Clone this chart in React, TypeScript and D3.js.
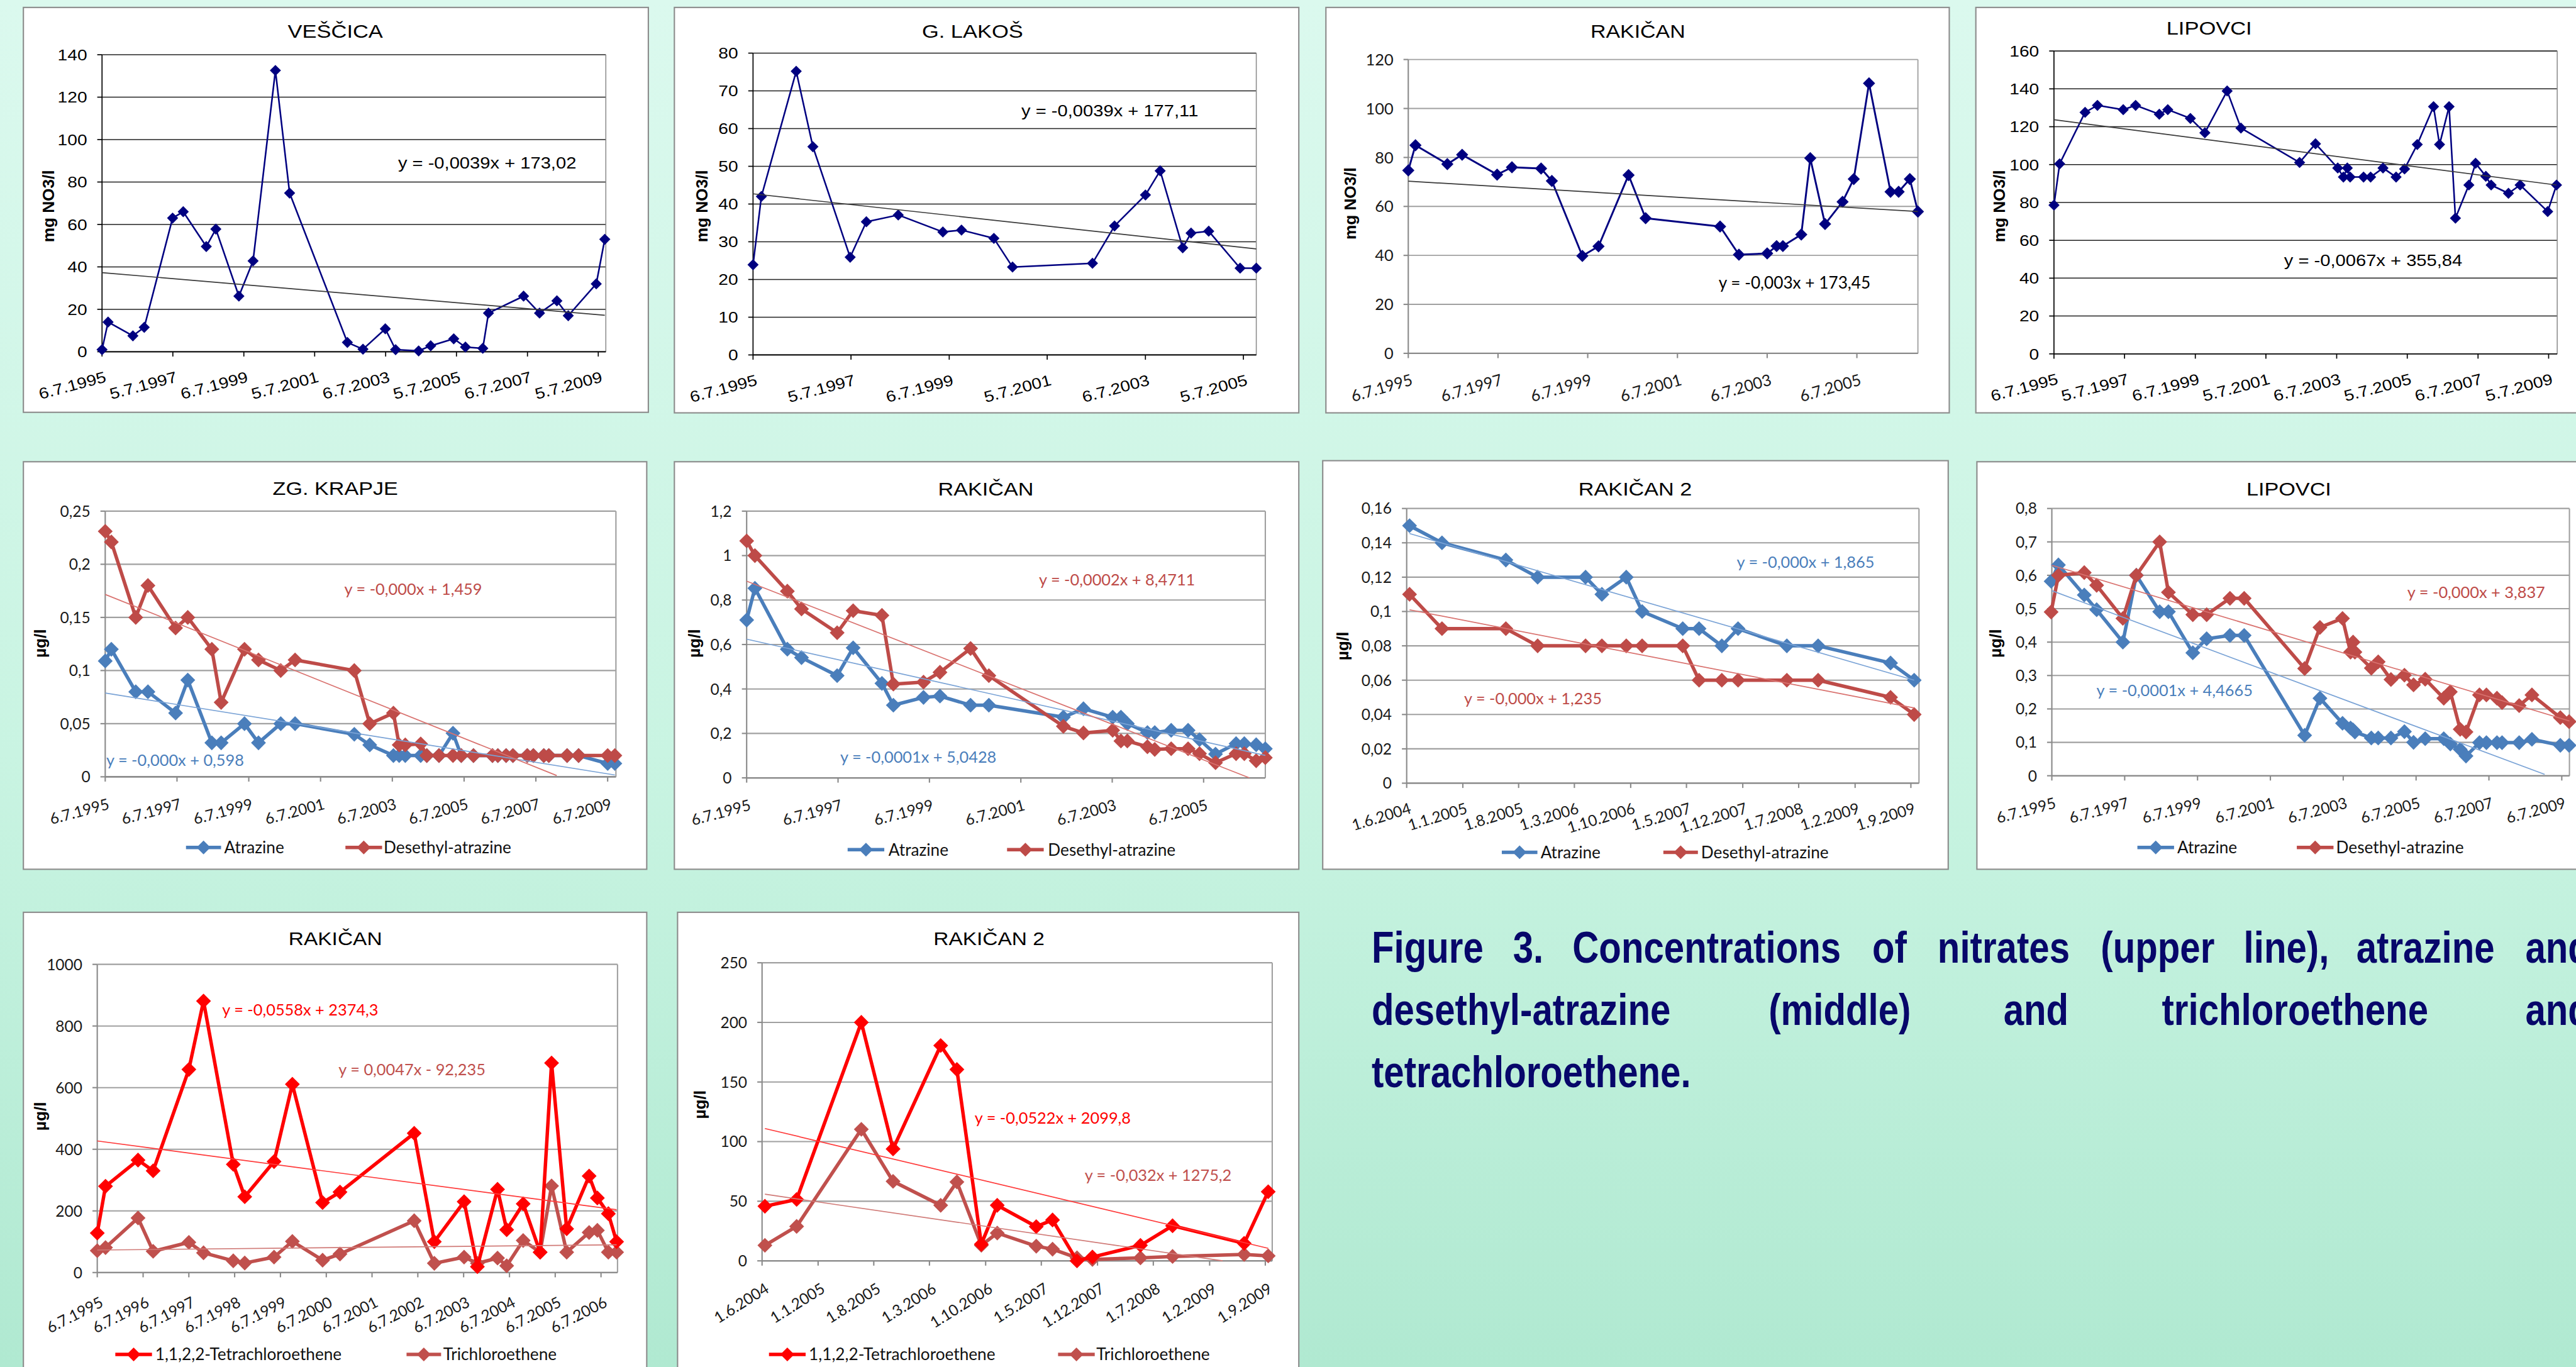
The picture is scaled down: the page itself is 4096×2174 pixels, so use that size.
import React from 'react';
import * as d3 from 'd3';

// ---------- data (x = decimal year of the sample date) ----------
const vescicaYears = [1995.51, 1995.68, 1996.38, 1996.7, 1997.5, 1997.8, 1998.45, 1998.72, 1999.37, 1999.77, 2000.4, 2000.8, 2002.43, 2002.87, 2003.5, 2003.79, 2004.44, 2004.78, 2005.43, 2005.76, 2006.25, 2006.41, 2007.4, 2007.85, 2008.34, 2008.66, 2009.45, 2009.69];
const vescicaNO3 = [1, 14, 7.5, 11.5, 63, 66, 49.6, 57.8, 26.2, 42.8, 132.6, 74.8, 4.4, 1.2, 10.8, 1, 0.4, 2.8, 6.1, 2.2, 1.6, 18.2, 26.2, 18.2, 24, 17, 32, 53];
const vescicaTrend = [37.3, 17.2];

const lakosYears = [1995.51, 1995.68, 1996.39, 1996.73, 1997.49, 1997.82, 1998.47, 1999.38, 1999.76, 2000.42, 2000.8, 2002.43, 2002.88, 2003.51, 2003.81, 2004.27, 2004.44, 2004.8, 2005.44, 2005.77];
const lakosNO3 = [23.9, 42, 75.2, 55.2, 25.9, 35.3, 37.1, 32.6, 33.1, 30.9, 23.3, 24.3, 34.2, 42.4, 48.8, 28.4, 32.3, 32.8, 23, 23];
const lakosTrend = [42.7, 28.1];

const rakicanYears = [1995.51, 1995.67, 1996.38, 1996.71, 1997.49, 1997.82, 1998.47, 1998.71, 1999.39, 1999.75, 2000.42, 2000.8, 2002.46, 2002.88, 2003.51, 2003.72, 2003.86, 2004.27, 2004.47, 2004.8, 2005.19, 2005.44, 2005.78, 2006.26, 2006.44, 2006.69, 2006.87];
const rakicanNO3 = [74.7, 85, 77.3, 81.1, 73, 76, 75.5, 70.4, 39.8, 43.7, 72.8, 55.2, 51.8, 40.3, 40.8, 43.8, 43.8, 48.5, 79.7, 52.8, 61.9, 71.2, 110.3, 66, 66, 71.2, 57.9];
const rakicanTrend = [70.3, 57.9];

const lipovciYears = [1995.51, 1995.67, 1996.39, 1996.74, 1997.47, 1997.82, 1998.49, 1998.73, 1999.37, 1999.78, 2000.41, 2000.8, 2002.46, 2002.91, 2003.54, 2003.7, 2003.81, 2003.89, 2004.27, 2004.47, 2004.82, 2005.19, 2005.43, 2005.79, 2006.25, 2006.42, 2006.69, 2006.87, 2007.25, 2007.44, 2007.73, 2007.88, 2008.37, 2008.7, 2009.48, 2009.73];
const lipovciNO3 = [78.6, 100.4, 127.6, 131.3, 129, 131.3, 126.6, 129, 124.4, 116.8, 138.9, 119.3, 101.1, 111, 98.2, 93.4, 98.2, 93.4, 93.4, 93.4, 98.2, 93.4, 97.7, 110.6, 130.6, 110.6, 130.6, 71.7, 89.2, 100.7, 93.8, 89.2, 84.8, 89.2, 75.2, 89.2];
const lipovciTrend = [123.7, 89.2];

const krapjeYears = [1995.51, 1995.68, 1996.36, 1996.7, 1997.47, 1997.81, 1998.48, 1998.74, 1999.39, 1999.78, 2000.4, 2000.8, 2002.45, 2002.88, 2003.54, 2003.7, 2003.87, 2004.3, 2004.47, 2004.81, 2005.2, 2005.43, 2005.77, 2006.3, 2006.45, 2006.68, 2006.87, 2007.27, 2007.44, 2007.73, 2007.87, 2008.38, 2008.7, 2009.51, 2009.71];
const krapjeAtrazine = [0.109, 0.12, 0.08, 0.08, 0.06, 0.091, 0.032, 0.032, 0.05, 0.032, 0.05, 0.05, 0.04, 0.03, 0.02, 0.02, 0.02, 0.02, 0.02, 0.02, 0.041, 0.02, 0.02, 0.02, 0.02, 0.02, 0.02, 0.02, 0.02, 0.02, 0.02, 0.02, 0.02, 0.0125, 0.0125];
const krapjeDesethyl = [0.231, 0.221, 0.15, 0.18, 0.14, 0.15, 0.12, 0.07, 0.12, 0.11, 0.1, 0.11, 0.1, 0.05, 0.06, 0.03, 0.03, 0.031, 0.02, 0.02, 0.02, 0.02, 0.02, 0.02, 0.02, 0.02, 0.02, 0.02, 0.02, 0.02, 0.02, 0.02, 0.02, 0.02, 0.02];
const krapjeAtrazineTrend = [0.0789, 0.0017];
const krapjeDesethylTrend = [0.1716, 0.0012];

const rakAtrYears = [1995.51, 1995.69, 1996.4, 1996.71, 1997.49, 1997.84, 1998.47, 1998.72, 1999.38, 1999.74, 2000.41, 2000.81, 2002.44, 2002.88, 2003.52, 2003.7, 2003.84, 2004.28, 2004.44, 2004.8, 2005.17, 2005.42, 2005.77, 2006.22, 2006.4, 2006.66, 2006.86];
const rakAtrazine = [0.71, 0.853, 0.579, 0.541, 0.46, 0.585, 0.425, 0.327, 0.362, 0.368, 0.327, 0.327, 0.273, 0.311, 0.273, 0.273, 0.244, 0.204, 0.204, 0.214, 0.214, 0.172, 0.107, 0.154, 0.154, 0.149, 0.131];
const rakDesethyl = [1.066, 1.0, 0.84, 0.76, 0.653, 0.752, 0.731, 0.422, 0.431, 0.475, 0.582, 0.46, 0.232, 0.202, 0.214, 0.166, 0.166, 0.14, 0.128, 0.131, 0.131, 0.109, 0.068, 0.109, 0.109, 0.077, 0.091];
const rakAtrazineTrend = [0.624, 0.101];
const rakDesethylTrend = [0.885, 0];

const rak2AtrYears = [2004.445, 2004.783, 2005.448, 2005.779, 2006.278, 2006.448, 2006.702, 2006.867, 2007.29, 2007.46, 2007.697, 2007.866, 2008.374, 2008.7, 2009.454, 2009.7];
const rak2Atrazine = [0.15, 0.14, 0.13, 0.12, 0.12, 0.11, 0.12, 0.1, 0.09, 0.09, 0.08, 0.09, 0.08, 0.08, 0.07, 0.06];
const rak2Desethyl = [0.11, 0.09, 0.09, 0.08, 0.08, 0.08, 0.08, 0.08, 0.08, 0.06, 0.06, 0.06, 0.06, 0.06, 0.05, 0.04];
const rak2AtrazineTrend = [0.1454, 0.06];
const rak2DesethylTrend = [0.101, 0.0438];

const lipAtrYears = [1995.49, 1995.69, 1996.4, 1996.74, 1997.46, 1997.83, 1998.47, 1998.71, 1999.38, 1999.76, 2000.4, 2000.79, 2002.45, 2002.87, 2003.49, 2003.71, 2003.78, 2003.83, 2004.28, 2004.47, 2004.82, 2005.19, 2005.44, 2005.76, 2006.27, 2006.45, 2006.72, 2006.88, 2007.25, 2007.44, 2007.73, 2007.87, 2008.34, 2008.69, 2009.47, 2009.71];
const lipAtrazine = [0.582, 0.631, 0.541, 0.497, 0.4, 0.6, 0.491, 0.491, 0.368, 0.41, 0.42, 0.42, 0.121, 0.232, 0.157, 0.143, 0.137, 0.131, 0.113, 0.113, 0.113, 0.132, 0.1, 0.111, 0.111, 0.095, 0.079, 0.059, 0.099, 0.099, 0.099, 0.099, 0.099, 0.109, 0.091, 0.091];
const lipDesethyl = [0.49, 0.6, 0.608, 0.57, 0.471, 0.6, 0.7, 0.549, 0.482, 0.482, 0.531, 0.531, 0.321, 0.444, 0.471, 0.37, 0.4, 0.37, 0.322, 0.341, 0.288, 0.301, 0.272, 0.289, 0.232, 0.251, 0.139, 0.131, 0.242, 0.242, 0.232, 0.219, 0.21, 0.242, 0.174, 0.162];
const lipAtrazineTrend = [0.554, 0.004];
const lipDesethylTrend = [0.63, 0.164];

const rakTceYears = [1995.51, 1995.69, 1996.4, 1996.73, 1997.51, 1997.83, 1998.48, 1998.73, 1999.37, 1999.77, 2000.43, 2000.81, 2002.43, 2002.87, 2003.52, 2003.81, 2004.25, 2004.45, 2004.81, 2005.18, 2005.43, 2005.76, 2006.25, 2006.43, 2006.67, 2006.85];
const rakTetra = [128, 280, 365, 330, 659, 881, 351, 246, 360, 611, 227, 261, 452, 100, 230, 19, 270, 139, 223, 66, 680, 142, 313, 242, 191, 100];
const rakTri = [71, 81, 177, 69, 98, 64, 38, 31, 50, 101, 40, 60, 168, 30, 50, 30, 47, 22, 104, 66, 281, 66, 130, 137, 66, 66];
const rakTetraTrend = [427, 204];
const rakTriTrend = [73, 90];

const rak2TceYears = [2004.445, 2004.776, 2005.451, 2005.782, 2006.279, 2006.448, 2006.703, 2006.869, 2007.276, 2007.446, 2007.701, 2007.862, 2008.363, 2008.698, 2009.445, 2009.696];
const rak2Tetra = [45.8, 51.5, 200, 93.9, 180.6, 160.5, 14, 46.6, 28.7, 34.3, 0, 3.2, 13, 29.4, 14.7, 58];
const rak2Tri = [13, 28.9, 110.3, 66.7, 46.6, 66.2, 13, 23.3, 12.3, 9.8, 2.5, 1.2, 2.5, 3.7, 5.4, 4.2];
const rak2TetraTrend = [111, 10.5];
const rak2TriTrend = [55.9, 0];

// tick labels
const ticksAlt2009 = ['6.7.1995', '5.7.1997', '6.7.1999', '5.7.2001', '6.7.2003', '5.7.2005', '6.7.2007', '5.7.2009'];
const ticksAlt2005 = ['6.7.1995', '5.7.1997', '6.7.1999', '5.7.2001', '6.7.2003', '5.7.2005'];
const ticks2005 = ['6.7.1995', '6.7.1997', '6.7.1999', '6.7.2001', '6.7.2003', '6.7.2005'];
const ticks2009 = ['6.7.1995', '6.7.1997', '6.7.1999', '6.7.2001', '6.7.2003', '6.7.2005', '6.7.2007', '6.7.2009'];
const ticksYearly = ['6.7.1995', '6.7.1996', '6.7.1997', '6.7.1998', '6.7.1999', '6.7.2000', '6.7.2001', '6.7.2002', '6.7.2003', '6.7.2004', '6.7.2005', '6.7.2006'];
const ticksMonthly = ['1.6.2004', '1.1.2005', '1.8.2005', '1.3.2006', '1.10.2006', '1.5.2007', '1.12.2007', '1.7.2008', '1.2.2009', '1.9.2009'];

const captionLines = [
  ['Figure', '3.', 'Concentrations', 'of', 'nitrates', '(upper', 'line),', 'atrazine', 'and'],
  ['desethyl-atrazine', '(middle)', 'and', 'trichloroethene', 'and'],
  ['tetrachloroethene.'],
];

// ---------- helpers ----------
const ARIAL = "'Liberation Sans', Arial, sans-serif";
const CALIBRI = "Lato, 'Liberation Sans', sans-serif";

const toYear = (s: string) => {
  const [d, m, y] = s.split('.').map(Number);
  const start = Date.UTC(y, 0, 1);
  return y + (Date.UTC(y, m - 1, d) - start) / (Date.UTC(y + 1, 0, 1) - start);
};

const fmt = d3.formatLocale({ decimal: ',', thousands: '.', grouping: [3], currency: ['', ''] }).format('~g');

const NAVY = '#000080';
const BLUE = '#4a7ebb';
const RED = '#be4b48';
const BRIGHT = '#ff0000';
const ROSE = '#c0504d';

type Series = { xs: number[]; ys: number[]; color: string; width: number; r: number };
type Trend = { xs: number[]; ys: number[]; color: string; width: number };
type Eq = { text: string; x: number; y: number; color: string };
type Style = {
  tickFont: string; tickSize: number; tickColor: string; sx: number;
  titleSize: number; titleSx: number;
  eqFont: string; eqSize: number;
  grid: string; gridW: number; axis: string; axisW: number; frame: string;
};
type PanelCfg = {
  box: number[]; plot: number[];
  title: string; titleX: number; titleY: number;
  yLabel: string; yLabelX: number; yLabelY: number;
  xTicks: string[]; xMax: number; xAngle: number; xOff: number;
  yTicks: number[];
  series: Series[]; trends: Trend[]; eqs: Eq[];
  legend?: { y: number; items: { label: string; color: string; x0: number; x1: number; tx: number }[] };
  style: Style;
};

// the older Excel charts are stretched sideways, hence the sx factors
const oldStyle: Style = {
  tickFont: ARIAL, tickSize: 29, tickColor: '#000', sx: 1.15,
  titleSize: 34, titleSx: 1.2,
  eqFont: ARIAL, eqSize: 30,
  grid: '#222', gridW: 1.8, axis: '#000', axisW: 2, frame: '#8a8a8a',
};
const newStyle: Style = {
  tickFont: CALIBRI, tickSize: 29, tickColor: '#1a1a1a', sx: 1,
  titleSize: 34, titleSx: 1.19,
  eqFont: CALIBRI, eqSize: 30,
  grid: '#a0a0a0', gridW: 2.5, axis: '#8a8a8a', axisW: 2.5, frame: '#a0a0a0',
};
const rakNO3Style: Style = { ...newStyle, tickSize: 30, eqSize: 31, gridW: 2.2, titleSx: 1.18 };
const row3Style: Style = { ...newStyle, titleSize: 36, titleSx: 1.1 };

const navy = (xs: number[], ys: number[]): Series => ({ xs, ys, color: NAVY, width: 3, r: 10.5 });
const thick = (xs: number[], ys: number[], color: string): Series => ({ xs, ys, color, width: 6.5, r: 14 });
const trend = (xs: number[], ys: number[], color: string, width = 2): Trend => ({ xs, ys, color, width });

const nitrateLabel = 'mg NO3/l';
const microLabel = 'µg/l';

const panels: PanelCfg[] = [
  {
    box: [44, 14, 1176, 762], plot: [192, 103, 1140, 662],
    title: 'VEŠČICA', titleX: 631, titleY: 71,
    yLabel: nitrateLabel, yLabelX: 91, yLabelY: 388,
    xTicks: ticksAlt2009, xMax: 2009.72, xAngle: -15, xOff: 36,
    yTicks: [0, 20, 40, 60, 80, 100, 120, 140],
    series: [navy(vescicaYears, vescicaNO3)],
    trends: [trend([vescicaYears[0], vescicaYears[vescicaYears.length - 1]], vescicaTrend, '#3a3a3a')],
    eqs: [{ text: 'y = -0,0039x + 173,02', x: 749, y: 317, color: '#000' }],
    style: oldStyle,
  },
  {
    box: [1269, 14, 1175, 763], plot: [1417, 100, 2364, 668],
    title: 'G. LAKOŠ', titleX: 1830, titleY: 71,
    yLabel: nitrateLabel, yLabelX: 1321, yLabelY: 388,
    xTicks: ticksAlt2005, xMax: 2005.77, xAngle: -15, xOff: 36,
    yTicks: [0, 10, 20, 30, 40, 50, 60, 70, 80],
    series: [navy(lakosYears, lakosNO3)],
    trends: [trend([lakosYears[0], lakosYears[lakosYears.length - 1]], lakosTrend, '#3a3a3a')],
    eqs: [{ text: 'y = -0,0039x + 177,11', x: 1922, y: 219, color: '#000' }],
    style: oldStyle,
  },
  {
    box: [2495, 14, 1173, 763], plot: [2650, 112, 3609, 665],
    title: 'RAKIČAN', titleX: 3082, titleY: 71,
    yLabel: nitrateLabel, yLabelX: 2541, yLabelY: 383,
    xTicks: ticks2005, xMax: 2006.87, xAngle: -16, xOff: 38,
    yTicks: [0, 20, 40, 60, 80, 100, 120],
    series: [{ ...navy(rakicanYears, rakicanNO3), width: 3.5, r: 11.5 }],
    trends: [trend([rakicanYears[0], rakicanYears[rakicanYears.length - 1]], rakicanTrend, '#3a3a3a')],
    eqs: [{ text: 'y = -0,003x + 173,45', x: 3234, y: 543, color: '#000' }],
    style: rakNO3Style,
  },
  {
    box: [3718, 14, 1300, 763], plot: [3865, 96, 4812, 666],
    title: 'LIPOVCI', titleX: 4157, titleY: 65,
    yLabel: nitrateLabel, yLabelX: 3762, yLabelY: 388,
    xTicks: ticksAlt2009, xMax: 2009.75, xAngle: -15, xOff: 36,
    yTicks: [0, 20, 40, 60, 80, 100, 120, 140, 160],
    series: [navy(lipovciYears, lipovciNO3)],
    trends: [trend([lipovciYears[0], lipovciYears[lipovciYears.length - 1]], lipovciTrend, '#3a3a3a')],
    eqs: [{ text: 'y = -0,0067x + 355,84', x: 4298, y: 501, color: '#000' }],
    style: oldStyle,
  },
  {
    box: [44, 869, 1173, 767], plot: [198, 962, 1159, 1462],
    title: 'ZG. KRAPJE', titleX: 631, titleY: 931,
    yLabel: microLabel, yLabelX: 76, yLabelY: 1211,
    xTicks: ticks2009, xMax: 2009.74, xAngle: -15, xOff: 40,
    yTicks: [0, 0.05, 0.1, 0.15, 0.2, 0.25],
    series: [thick(krapjeYears, krapjeAtrazine, BLUE), thick(krapjeYears, krapjeDesethyl, RED)],
    trends: [
      trend([1995.51, 2009.71], krapjeAtrazineTrend, '#7aa3d6'),
      trend([1995.51, 2008.09], krapjeDesethylTrend, '#d9726f'),
    ],
    eqs: [
      { text: 'y = -0,000x + 1,459', x: 648, y: 1119, color: RED },
      { text: 'y = -0,000x + 0,598', x: 200, y: 1442, color: BLUE },
    ],
    legend: { y: 1595, items: [
      { label: 'Atrazine', color: BLUE, x0: 350, x1: 416, tx: 422 },
      { label: 'Desethyl-atrazine', color: RED, x0: 650, x1: 719, tx: 722 },
    ] },
    style: newStyle,
  },
  {
    box: [1269, 869, 1175, 767], plot: [1405, 962, 2381, 1464],
    title: 'RAKIČAN', titleX: 1855, titleY: 932,
    yLabel: microLabel, yLabelX: 1306, yLabelY: 1211,
    xTicks: ticks2005, xMax: 2006.86, xAngle: -15, xOff: 40,
    yTicks: [0, 0.2, 0.4, 0.6, 0.8, 1, 1.2],
    series: [thick(rakAtrYears, rakAtrazine, BLUE), thick(rakAtrYears, rakDesethyl, RED)],
    trends: [
      trend([1995.51, 2006.86], rakAtrazineTrend, '#7aa3d6'),
      trend([1995.51, 2006.51], rakDesethylTrend, '#d9726f'),
    ],
    eqs: [
      { text: 'y = -0,0002x + 8,4711', x: 1955, y: 1102, color: RED },
      { text: 'y = -0,0001x + 5,0428', x: 1581, y: 1435, color: BLUE },
    ],
    legend: { y: 1599, items: [
      { label: 'Atrazine', color: BLUE, x0: 1595, x1: 1664, tx: 1672 },
      { label: 'Desethyl-atrazine', color: RED, x0: 1895, x1: 1964, tx: 1972 },
    ] },
    style: newStyle,
  },
  {
    box: [2489, 867, 1177, 769], plot: [2647, 957, 3611, 1474],
    title: 'RAKIČAN 2', titleX: 3077, titleY: 932,
    yLabel: microLabel, yLabelX: 2526, yLabelY: 1216,
    xTicks: ticksMonthly, xMax: 2009.75, xAngle: -17, xOff: 36,
    yTicks: [0, 0.02, 0.04, 0.06, 0.08, 0.1, 0.12, 0.14, 0.16],
    series: [thick(rak2AtrYears, rak2Atrazine, BLUE), thick(rak2AtrYears, rak2Desethyl, RED)],
    trends: [
      trend([2004.445, 2009.7], rak2AtrazineTrend, '#7aa3d6'),
      trend([2004.445, 2009.7], rak2DesethylTrend, '#d9726f'),
    ],
    eqs: [
      { text: 'y = -0,000x + 1,865', x: 3268, y: 1069, color: BLUE },
      { text: 'y = -0,000x + 1,235', x: 2755, y: 1326, color: RED },
    ],
    legend: { y: 1604, items: [
      { label: 'Atrazine', color: BLUE, x0: 2826, x1: 2893, tx: 2899 },
      { label: 'Desethyl-atrazine', color: RED, x0: 3130, x1: 3195, tx: 3201 },
    ] },
    style: newStyle,
  },
  {
    box: [3720, 869, 1300, 767], plot: [3861, 957, 4835, 1460],
    title: 'LIPOVCI', titleX: 4307, titleY: 932,
    yLabel: microLabel, yLabelX: 3755, yLabelY: 1211,
    xTicks: ticks2009, xMax: 2009.72, xAngle: -15, xOff: 40,
    yTicks: [0, 0.1, 0.2, 0.3, 0.4, 0.5, 0.6, 0.7, 0.8],
    series: [thick(lipAtrYears, lipAtrazine, BLUE), thick(lipAtrYears, lipDesethyl, RED)],
    trends: [
      trend([1995.51, 2009.04], lipAtrazineTrend, '#7aa3d6'),
      trend([1995.51, 2009.72], lipDesethylTrend, '#d9726f'),
    ],
    eqs: [
      { text: 'y = -0,000x + 3,837', x: 4530, y: 1126, color: RED },
      { text: 'y = -0,0001x + 4,4665', x: 3945, y: 1310, color: BLUE },
    ],
    legend: { y: 1595, items: [
      { label: 'Atrazine', color: BLUE, x0: 4022, x1: 4091, tx: 4097 },
      { label: 'Desethyl-atrazine', color: RED, x0: 4322, x1: 4391, tx: 4396 },
    ] },
    style: newStyle,
  },
  {
    box: [44, 1717, 1173, 1000], plot: [183, 1815, 1162, 2395],
    title: 'RAKIČAN', titleX: 631, titleY: 1779,
    yLabel: microLabel, yLabelX: 76, yLabelY: 2101,
    xTicks: ticksYearly, xMax: 2006.87, xAngle: -27, xOff: 44,
    yTicks: [0, 200, 400, 600, 800, 1000],
    series: [thick(rakTceYears, rakTri, ROSE), thick(rakTceYears, rakTetra, BRIGHT)],
    trends: [
      trend([1995.51, 2006.85], rakTetraTrend, '#ff3a3a'),
      trend([1995.51, 2006.85], rakTriTrend, '#d07a77'),
    ],
    eqs: [
      { text: 'y = -0,0558x + 2374,3', x: 418, y: 1911, color: BRIGHT },
      { text: 'y = 0,0047x - 92,235', x: 637, y: 2024, color: ROSE },
    ],
    legend: { y: 2549, items: [
      { label: '1,1,2,2-Tetrachloroethene', color: BRIGHT, x0: 217, x1: 286, tx: 292 },
      { label: 'Trichloroethene', color: ROSE, x0: 765, x1: 830, tx: 834 },
    ] },
    style: row3Style,
  },
  {
    box: [1275, 1717, 1169, 1000], plot: [1434, 1812, 2394, 2373],
    title: 'RAKIČAN 2', titleX: 1861, titleY: 1779,
    yLabel: microLabel, yLabelX: 1317, yLabelY: 2079,
    xTicks: ticksMonthly, xMax: 2009.738, xAngle: -32, xOff: 40,
    yTicks: [0, 50, 100, 150, 200, 250],
    series: [thick(rak2TceYears, rak2Tri, ROSE), thick(rak2TceYears, rak2Tetra, BRIGHT)],
    trends: [
      trend([2004.445, 2009.696], rak2TetraTrend, '#ff3a3a'),
      trend([2004.445, 2009.22], rak2TriTrend, '#d07a77'),
    ],
    eqs: [
      { text: 'y = -0,0522x + 2099,8', x: 1834, y: 2115, color: BRIGHT },
      { text: 'y = -0,032x + 1275,2', x: 2041, y: 2222, color: ROSE },
    ],
    legend: { y: 2549, items: [
      { label: '1,1,2,2-Tetrachloroethene', color: BRIGHT, x0: 1447, x1: 1516, tx: 1522 },
      { label: 'Trichloroethene', color: ROSE, x0: 1991, x1: 2060, tx: 2063 },
    ] },
    style: row3Style,
  },
];

const diamond = (r: number) => `M0,${-r}L${r},0L0,${r}L${-r},0Z`;

const Panel = ({ p }: { p: PanelCfg }) => {
  const st = p.style;
  const [l, t, r, b] = p.plot;
  const x = d3.scaleLinear().domain([toYear(p.xTicks[0]), p.xMax]).range([l, r]);
  const y = d3.scaleLinear().domain([0, d3.max(p.yTicks) as number]).range([b, t]);
  const line = d3.line<number[]>().x((d) => x(d[0])).y((d) => y(d[1]));
  const tick = 9;
  return (
    <g>
      <rect x={p.box[0]} y={p.box[1]} width={p.box[2]} height={p.box[3]} fill="#fff" stroke="#8c8c8c" strokeWidth={2.5} />
      <text transform={`translate(${p.titleX},${p.titleY}) scale(${st.titleSx},1)`} textAnchor="middle" fontFamily={ARIAL} fontSize={st.titleSize} fill="#000">{p.title}</text>

      {p.yTicks.map((v) => (
        <line key={'g' + v} x1={l} x2={r} y1={y(v)} y2={y(v)} stroke={v === 0 ? st.axis : st.grid} strokeWidth={st.gridW} />
      ))}
      <line x1={r} x2={r} y1={t} y2={b} stroke={st.frame} strokeWidth={st.gridW} />
      <line x1={l} x2={l} y1={t} y2={b} stroke={st.axis} strokeWidth={st.axisW} />
      <line x1={l} x2={r} y1={b} y2={b} stroke={st.axis} strokeWidth={st.axisW} />
      {p.yTicks.map((v) => (
        <g key={'y' + v}>
          <line x1={l - tick} x2={l} y1={y(v)} y2={y(v)} stroke={st.axis} strokeWidth={st.axisW} />
          <text transform={`translate(${l - 28},${y(v)}) scale(${st.sx},1)`} dy="0.36em" textAnchor="end" fontFamily={st.tickFont} fontSize={st.tickSize} fill={st.tickColor}>{fmt(v)}</text>
        </g>
      ))}
      {p.xTicks.map((s) => {
        const tx = x(toYear(s));
        return (
          <g key={'x' + s}>
            <line x1={tx} x2={tx} y1={b} y2={b + tick} stroke={st.axis} strokeWidth={st.axisW} />
            <text transform={`translate(${tx + 4},${b + p.xOff}) rotate(${p.xAngle}) scale(${st.sx},1)`} dy="0.72em" textAnchor="end" fontFamily={st.tickFont} fontSize={st.tickSize} fill={st.tickColor}>{s}</text>
          </g>
        );
      })}

      <text transform={`translate(${p.yLabelX},${p.yLabelY}) rotate(-90)`} dy="0.35em" textAnchor="middle" fontFamily={ARIAL} fontWeight="bold" fontSize={31} fill="#000">{p.yLabel}</text>

      {p.series.map((s, i) => {
        const pts = s.xs.map((v, k) => [v, s.ys[k]]);
        return (
          <g key={'s' + i}>
            <path d={line(pts) as string} fill="none" stroke={s.color} strokeWidth={s.width} strokeLinejoin="round" />
            {pts.map((d, k) => (
              <path key={k} d={diamond(s.r)} transform={`translate(${x(d[0])},${y(d[1])})`} fill={s.color} />
            ))}
          </g>
        );
      })}
      {p.trends.map((tr, i) => (
        <path key={'t' + i} d={line(tr.xs.map((v, k) => [v, tr.ys[k]])) as string} fill="none" stroke={tr.color} strokeWidth={tr.width} />
      ))}
      {p.eqs.map((e, i) => (
        <text key={'e' + i} transform={`translate(${e.x},${e.y}) scale(${st.sx},1)`} fontFamily={st.eqFont} fontSize={st.eqSize} fill={e.color}>{e.text}</text>
      ))}
      {p.legend && p.legend.items.map((it, i) => (
        <g key={'l' + i}>
          <line x1={it.x0} x2={it.x1} y1={p.legend!.y} y2={p.legend!.y} stroke={it.color} strokeWidth={6.5} />
          <path d={diamond(13)} transform={`translate(${(it.x0 + it.x1) / 2},${p.legend!.y})`} fill={it.color} />
          <text x={it.tx} y={p.legend!.y} dy="0.36em" fontFamily={CALIBRI} fontSize={31} fill="#111">{it.label}</text>
        </g>
      ))}
    </g>
  );
};

const captionX = [
  [2581, 2847, 2959, 3523, 3646, 3953, 4222, 4434, 4752],
  [2581, 3328, 3770, 4068, 4752],
  [2581],
];
const captionY = [1812, 1929, 2046];

export default function App() {
  const W = 4096;
  const H = 2174;
  const k = 0.845;
  return (
    <svg width={W} height={H} style={{ position: 'absolute', left: 0, top: 0, display: 'block' }}>
      <defs>
        <linearGradient id="bg" x1="0" y1="0" x2="0" y2="1">
          <stop offset="0" stopColor="#dbf9ee" />
          <stop offset="0.55" stopColor="#c9f4e2" />
          <stop offset="1" stopColor="#b0e9d1" />
        </linearGradient>
      </defs>
      <rect width={W} height={H} fill="url(#bg)" />
      <g transform={`scale(${k})`}>
        {panels.map((p, i) => <Panel key={i} p={p} />)}
        <g fontFamily={ARIAL} fontWeight="bold" fontSize={84} fill="#07076a">
          {captionLines.map((words, li) => (
            <g key={li} transform={`translate(0,${captionY[li]}) scale(0.82,1)`}>
              {words.map((w, wi) => (
                <text key={wi} x={captionX[li][wi] / 0.82} y={0}>{w}</text>
              ))}
            </g>
          ))}
        </g>
      </g>
    </svg>
  );
}
